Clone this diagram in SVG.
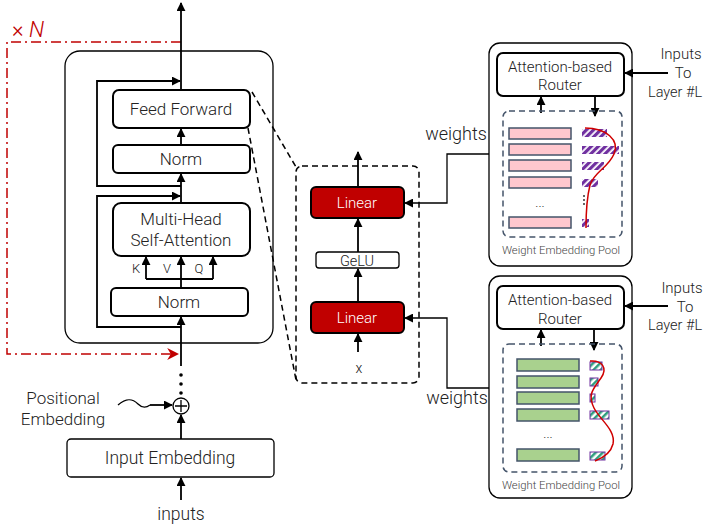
<svg xmlns="http://www.w3.org/2000/svg" width="706" height="525" viewBox="0 0 706 525">
<defs>
<style>
text{font-family:Roboto,"Liberation Sans",sans-serif;font-weight:300;fill:#222;}
.t16{font-size:17px;text-anchor:middle;}
.t14{font-size:15px;text-anchor:middle;}
.t10{font-size:11.3px;text-anchor:middle;fill:#444;}
.box{fill:#fff;stroke:#000;stroke-width:2;}
.thin{fill:#fff;stroke:#000;stroke-width:1.3;}
.red{fill:#C00000;stroke:#000;stroke-width:2;}
.ln{fill:none;stroke:#000;stroke-width:1.8;}
.ln1{fill:none;stroke:#000;stroke-width:1.3;}
.dash{fill:none;stroke:#000;stroke-width:1.5;stroke-dasharray:6 4;}
.pool{fill:none;stroke:#44546A;stroke-width:1.5;stroke-dasharray:6 4;}
.pink{fill:#FFC7CE;stroke:#44546A;stroke-width:1.5;}
.green{fill:#A9D18E;stroke:#44546A;stroke-width:1.5;}
.curve{fill:none;stroke:#D00000;stroke-width:1.5;}
</style>
<marker id="ahs" viewBox="0 0 10 10" refX="9" refY="5" markerWidth="9" markerHeight="9" orient="auto" markerUnits="userSpaceOnUse">
<path d="M0,0 L10,5 L0,10 z" fill="#000"/>
</marker>
<marker id="ahr" viewBox="0 0 10 10" refX="9" refY="5" markerWidth="12" markerHeight="12" orient="auto" markerUnits="userSpaceOnUse">
<path d="M0,0 L10,5 L0,10 L3,5 z" fill="#C00000"/>
</marker>
<pattern id="hp" width="5" height="5" patternUnits="userSpaceOnUse" patternTransform="rotate(45)">
<rect width="5" height="5" fill="#fff"/>
<rect width="3.2" height="5" fill="#7030A0"/>
</pattern>
<pattern id="hg" width="5" height="5" patternUnits="userSpaceOnUse" patternTransform="rotate(45)">
<rect width="5" height="5" fill="#fff"/>
<rect width="2.5" height="5" fill="#2E9E7E"/>
</pattern>
</defs>

<g id="block">
<rect x="65" y="51" width="208" height="292" rx="15" class="thin"/>
</g>

<g id="connectors">
<path d="M181,42 H7 V354 H178" fill="none" stroke="#C00000" stroke-width="1.5" stroke-dasharray="10 4 2 4" marker-end="url(#ahr)"/>
<line x1="181" y1="90" x2="181" y2="3" class="ln" marker-end="url(#ahs)"/>
<line x1="181" y1="145" x2="181" y2="129" class="ln" marker-end="url(#ahs)"/>
<line x1="181" y1="203" x2="181" y2="174" class="ln" marker-end="url(#ahs)"/>
<path d="M181,186 H97 V81 H180" class="ln" marker-end="url(#ahs)"/>
<path d="M181,327 H97 V196 H180" class="ln" marker-end="url(#ahs)"/>
<line x1="181" y1="288" x2="181" y2="257" class="ln" marker-end="url(#ahs)"/>
<path d="M146,279 H213" class="ln"/>
<line x1="146" y1="279" x2="146" y2="257" class="ln" marker-end="url(#ahs)"/>
<line x1="213" y1="279" x2="213" y2="257" class="ln" marker-end="url(#ahs)"/>
<line x1="181" y1="366" x2="181" y2="317" class="ln" marker-end="url(#ahs)"/>
<circle cx="181" cy="375" r="1.8" fill="#000"/>
<circle cx="181" cy="384" r="1.8" fill="#000"/>
<circle cx="181" cy="393" r="1.8" fill="#000"/>
<line x1="181" y1="439" x2="181" y2="415" class="ln" marker-end="url(#ahs)"/>
<line x1="181" y1="500" x2="181" y2="478" class="ln" marker-end="url(#ahs)"/>
<path d="M118,405 C126,398 132,398 138,404 C142,408 146,408 150,405" class="ln1"/>
<line x1="150" y1="405" x2="172" y2="405" class="ln" marker-end="url(#ahs)"/>
<line x1="252" y1="92" x2="296" y2="167" class="dash"/>
<line x1="248" y1="128" x2="296" y2="380" class="dash"/>
<line x1="358" y1="186" x2="358" y2="152" class="ln" marker-end="url(#ahs)"/>
<line x1="358" y1="252" x2="358" y2="219" class="ln" marker-end="url(#ahs)"/>
<line x1="358" y1="302" x2="358" y2="269" class="ln" marker-end="url(#ahs)"/>
<line x1="358" y1="352" x2="358" y2="334" class="ln" marker-end="url(#ahs)"/>
<path d="M489,154 H447 V203 H405" class="ln1" marker-end="url(#ahs)"/>
<path d="M489,388 H447 V318 H405" class="ln1" marker-end="url(#ahs)"/>
<line x1="668" y1="73" x2="625" y2="73" class="ln" marker-end="url(#ahs)"/>
<line x1="668" y1="306" x2="625" y2="306" class="ln" marker-end="url(#ahs)"/>
<line x1="541" y1="113" x2="541" y2="97" class="ln" marker-end="url(#ahs)"/>
<line x1="595" y1="96" x2="595" y2="116" class="ln" marker-end="url(#ahs)"/>
<line x1="541" y1="346" x2="541" y2="330" class="ln" marker-end="url(#ahs)"/>
<line x1="594" y1="329" x2="594" y2="350" class="ln" marker-end="url(#ahs)"/>
</g>

<text x="12" y="37" style="font-size:22px;fill:#C00000;">× <tspan font-style="italic">N</tspan></text>

<g id="ffn-node">
<rect x="113" y="90" width="137" height="38" rx="6" class="box"/>
<text x="181" y="115" class="t16">Feed Forward</text>
</g>
<g id="norm1">
<rect x="113" y="145" width="137" height="28" rx="5" class="box"/>
<text x="181" y="165" class="t16">Norm</text>
</g>
<g id="mhsa">
<rect x="113" y="203" width="137" height="53" rx="8" class="box"/>
<text x="181" y="225" class="t16">Multi-Head</text>
<text x="181" y="246" class="t16">Self-Attention</text>
</g>
<text x="136" y="273" style="font-size:13px;" text-anchor="middle">K</text>
<text x="167" y="273" style="font-size:13px;" text-anchor="middle">V</text>
<text x="199" y="273" style="font-size:13px;" text-anchor="middle">Q</text>
<g id="norm2">
<rect x="111" y="288" width="137" height="28" rx="5" class="box"/>
<text x="179" y="308" class="t16">Norm</text>
</g>
<g id="plus">
<circle cx="181" cy="406" r="8" fill="#fff" stroke="#000" stroke-width="1.3"/>
<path d="M181,400 V412 M175,406 H187" stroke="#000" stroke-width="1.3"/>
</g>
<g id="posemb">
<text x="63" y="404" class="t16">Positional</text>
<text x="63" y="425" class="t16">Embedding</text>
</g>
<g id="inputemb">
<rect x="67" y="439" width="207" height="38" rx="4" class="thin"/>
<text x="170" y="464" class="t16" style="font-size:17.5px;">Input Embedding</text>
</g>
<text x="181" y="520" class="t16" style="font-size:17.5px;">inputs</text>

<g id="ffn-detail">
<rect x="296" y="166" width="123" height="217" rx="6" class="dash"/>
</g>
<g id="linear-top">
<rect x="311" y="187" width="93" height="31" rx="5" class="red"/>
<text x="357" y="208" style="font-size:15px;fill:#fff;" text-anchor="middle">Linear</text>
</g>
<g id="gelu">
<rect x="316" y="252" width="83" height="16" rx="3" fill="#fff" stroke="#000" stroke-width="1.3"/>
<text x="357" y="265.5" style="font-size:14.5px;" text-anchor="middle">GeLU</text>
</g>
<g id="linear-bot">
<rect x="311" y="302" width="93" height="31" rx="5" class="red"/>
<text x="357" y="323" style="font-size:15px;fill:#fff;" text-anchor="middle">Linear</text>
</g>
<text x="359" y="373" style="font-size:14px;" text-anchor="middle">x</text>
<text x="456" y="140" class="t16" style="font-size:18px;">weights</text>
<text x="457" y="404" class="t16" style="font-size:18px;">weights</text>

<g id="pool-top">
<rect x="489" y="43" width="143" height="223" rx="11" class="thin" fill-opacity="0"/>
<rect x="497" y="53" width="127" height="43" rx="6" class="box"/>
<text x="560" y="72" class="t14">Attention-based</text>
<text x="560" y="90" class="t14">Router</text>
<rect x="503" y="111" width="119" height="126" rx="6" class="pool"/>
<rect x="509" y="128" width="62" height="11" class="pink"/>
<rect x="509" y="144" width="62" height="11" class="pink"/>
<rect x="509" y="160" width="62" height="11" class="pink"/>
<rect x="509" y="177" width="62" height="11" class="pink"/>
<rect x="509" y="217" width="62" height="11" class="pink"/>
<text x="540" y="207" style="font-size:13px;" text-anchor="middle">...</text>
<rect x="582" y="129" width="25" height="8" fill="url(#hp)"/>
<rect x="582" y="146" width="37" height="8" fill="url(#hp)"/>
<rect x="582" y="162" width="22" height="8" fill="url(#hp)"/>
<rect x="582" y="179" width="16" height="8" fill="url(#hp)"/>
<rect x="582" y="219" width="7" height="8" fill="url(#hp)"/>
<circle cx="584" cy="196" r="1" fill="#333"/>
<circle cx="584" cy="200" r="1" fill="#333"/>
<circle cx="584" cy="204" r="1" fill="#333"/>
<path d="M585,128 C606,128 620,140 614,154 C608,168 594,172 590,185 C587,197 586,212 586,228" class="curve"/>
<text x="561" y="254" class="t10">Weight Embedding Pool</text>
<text x="681" y="59" class="t14">Inputs</text>
<text x="683" y="78" class="t14">To</text>
<text x="648" y="97" style="font-size:14.5px;">Layer #L</text>
</g>

<g id="pool-bot">
<rect x="489" y="276" width="143" height="222" rx="11" class="thin" fill-opacity="0"/>
<rect x="497" y="286" width="127" height="43" rx="6" class="box"/>
<text x="560" y="305" class="t14">Attention-based</text>
<text x="560" y="324" class="t14">Router</text>
<rect x="503" y="344" width="119" height="128" rx="6" class="pool"/>
<rect x="517" y="359" width="62" height="12" class="green"/>
<rect x="517" y="376" width="62" height="12" class="green"/>
<rect x="517" y="392" width="62" height="12" class="green"/>
<rect x="517" y="409" width="62" height="12" class="green"/>
<rect x="517" y="449" width="62" height="12" class="green"/>
<text x="548" y="438" style="font-size:13px;" text-anchor="middle">...</text>
<rect x="590" y="362" width="12" height="8" fill="url(#hg)" stroke="#7030A0" stroke-width="1"/>
<rect x="590" y="378" width="8" height="8" fill="url(#hg)" stroke="#7030A0" stroke-width="1"/>
<rect x="590" y="394" width="5" height="8" fill="url(#hg)" stroke="#7030A0" stroke-width="1"/>
<rect x="590" y="411" width="19" height="8" fill="url(#hg)" stroke="#7030A0" stroke-width="1"/>
<rect x="590" y="452" width="15" height="8" fill="url(#hg)" stroke="#7030A0" stroke-width="1"/>
<path d="M590,361 C602,360 608,368 601,378 C594,388 587,394 594,408 C600,420 616,430 613,444 C611,452 603,458 595,461" class="curve"/>
<text x="561" y="489" class="t10">Weight Embedding Pool</text>
<text x="682" y="293" class="t14">Inputs</text>
<text x="685" y="312" class="t14">To</text>
<text x="648" y="330" style="font-size:14.5px;">Layer #L</text>
</g>
</svg>
